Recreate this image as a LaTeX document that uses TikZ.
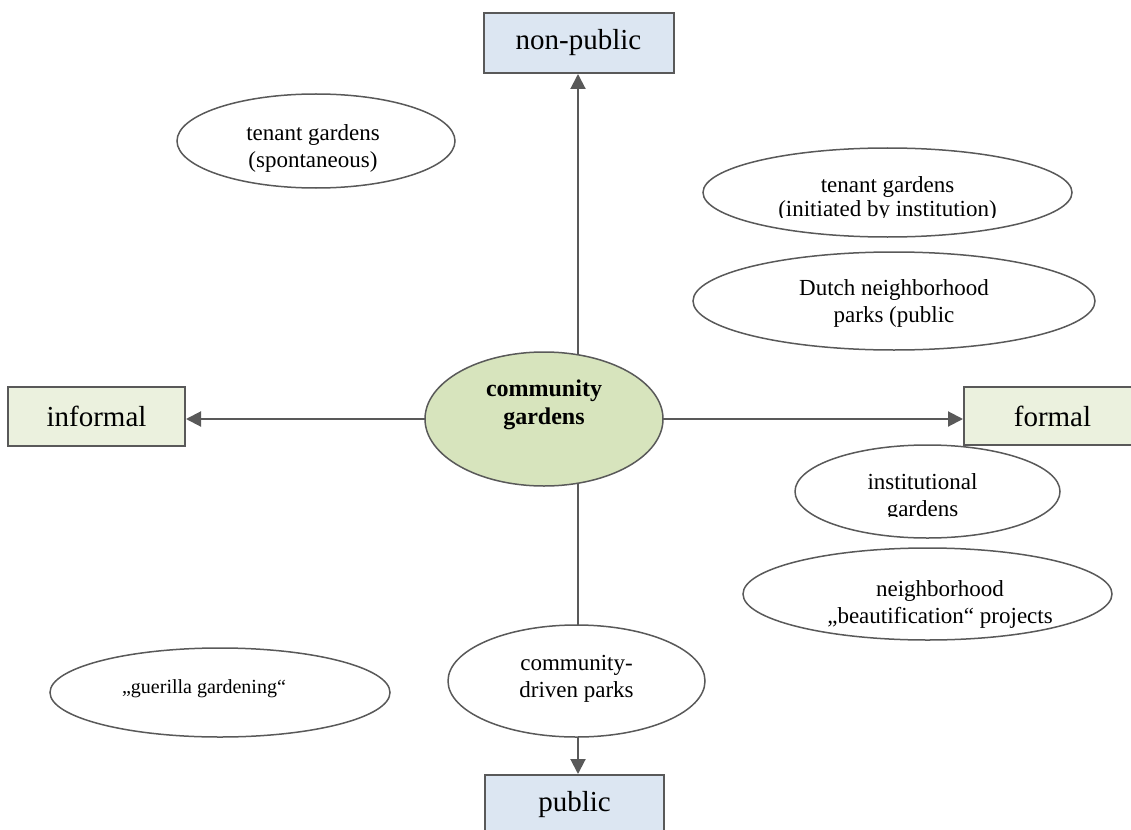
\documentclass[tikz,border=0pt]{standalone}
\usepackage{fontspec}
\setmainfont{Liberation Serif}
\usetikzlibrary{arrows.meta,shapes.geometric,backgrounds}

\definecolor{edge}{HTML}{595959}
\definecolor{boxblue}{HTML}{DCE6F2}
\definecolor{boxgreen}{HTML}{EBF1DE}
\definecolor{hubgreen}{HTML}{D7E4BD}

\tikzset{
  pole/.style={draw=edge, line width=2pt, inner sep=0pt,
    font=\fontsize{29}{34}\selectfont},
  bluepole/.style={pole, fill=boxblue},
  greenpole/.style={pole, fill=boxgreen},
  oval/.style={ellipse, draw=edge, line width=1.5pt, fill=white, inner sep=0pt},
  hub/.style={oval, fill=hubgreen},
  lbl/.style={align=center, inner sep=0pt, font=\fontsize{23}{27}\selectfont},
  link/.style={draw=edge, line width=2pt},
  arrowlink/.style={link, -{Triangle[length=15pt,width=15pt]}}
}

\begin{document}
\begin{tikzpicture}[x=1pt, y=-1pt]
  \useasboundingbox (0,0) rectangle (1131,829);
  \clip (0,0) rectangle (1131,829);

  % the four poles of the two axes
  \node[bluepole, minimum width=190pt, minimum height=60pt] (nonpub) at (578.5,43) {non-public};
  \node[greenpole, minimum width=177pt, minimum height=59pt] (informal) at (96.5,416.5) {informal};
  \node[greenpole, minimum width=177pt, minimum height=58pt] (formal) at (1052.5,416) {formal};
  \node[bluepole, minimum width=179pt, minimum height=59pt] (public) at (574.5,804.5) {public};

  % central concept
  \node[hub, minimum width=238pt, minimum height=134pt] (hub) at (544,419) {};
  \node[lbl, font=\bfseries\fontsize{24}{28}\selectfont] (hubtext) at (544,404.5) {community\\gardens};

  % garden types
  \node[oval, minimum width=278pt, minimum height=94pt] (spont) at (316,141) {};
  \node[lbl] (sponttext) at (313,148) {tenant gardens\\(spontaneous)};

  \node[oval, minimum width=369pt, minimum height=89pt] (tenant) at (887.5,192.5) {};
  \begin{scope}
    \clip (700,150) rectangle (1080,217);
    \node[lbl, font=\fontsize{23}{24}\selectfont] (tenanttext) at (887.5,199) {tenant gardens\\(initiated by institution)};
  \end{scope}

  \node[oval, minimum width=402pt, minimum height=98pt] (dutch) at (894,301) {};
  \node[lbl] (dutchtext) at (894,303.5) {Dutch neighborhood\\parks (public};

  \node[oval, minimum width=265pt, minimum height=93pt] (inst) at (927.5,491.5) {};
  \begin{scope}
    \clip (800,450) rectangle (1060,516);
    \node[lbl] (insttext) at (922.5,497) {institutional\\gardens};
  \end{scope}

  \node[oval, minimum width=369pt, minimum height=92pt] (beaut) at (927.5,594) {};
  \node[lbl] (beauttext) at (940,604.5) {neighborhood\\„beautification“ projects};

  \node[oval, minimum width=257pt, minimum height=112pt] (parks) at (576.5,681) {};
  \node[lbl] (parkstext) at (576.5,678.5) {community-\\driven parks};

  \node[oval, minimum width=340pt, minimum height=89pt] (guerilla) at (220,692.5) {};
  \node[lbl, font=\fontsize{20}{24}\selectfont] (guerillatext) at (204,688.3) {„guerilla gardening“};

  % axes
  \coordinate (axis) at (578,0);
  \begin{scope}[on background layer]
    \draw[arrowlink] (axis |- hub.center) -- (axis |- nonpub.south);
    \draw[arrowlink] (hub.center) -- (informal.east |- hub.center);
    \draw[arrowlink] (hub.center) -- (formal.west |- hub.center);
    \draw[link] (axis |- hub.center) -- (axis |- parks.center);
    \draw[arrowlink] (axis |- parks.center) -- (axis |- public.north);
  \end{scope}
\end{tikzpicture}
\end{document}
